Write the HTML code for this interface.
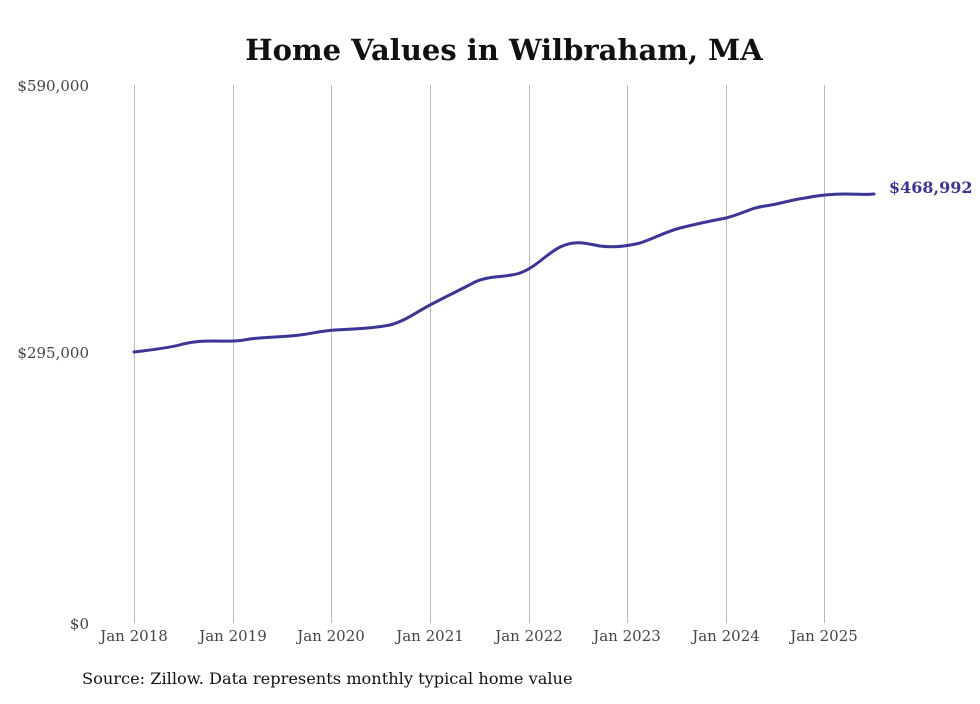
<!DOCTYPE html>
<html><head><meta charset="utf-8"><style>
body{margin:0;background:#fff;width:980px;height:699px;overflow:hidden}
</style></head><body>
<svg width="980" height="699" xmlns="http://www.w3.org/2000/svg" font-family="'DejaVu Serif','Liberation Serif',serif">
<text x="504" y="60" text-anchor="middle" font-size="29" font-weight="bold" fill="#111">Home Values in Wilbraham, MA</text>
<g stroke="#b8b8b8" stroke-width="1">
<line x1="134.5" y1="85" x2="134.5" y2="623"/>
<line x1="233.5" y1="85" x2="233.5" y2="623"/>
<line x1="331.5" y1="85" x2="331.5" y2="623"/>
<line x1="430.5" y1="85" x2="430.5" y2="623"/>
<line x1="529.5" y1="85" x2="529.5" y2="623"/>
<line x1="627.5" y1="85" x2="627.5" y2="623"/>
<line x1="726.5" y1="85" x2="726.5" y2="623"/>
<line x1="824.5" y1="85" x2="824.5" y2="623"/>
</g>
<g font-size="15" fill="#444" text-anchor="end">
<text x="89" y="91">$590,000</text>
<text x="89" y="358">$295,000</text>
<text x="89" y="629">$0</text>
</g>
<g font-size="15" fill="#444" text-anchor="middle">
<text x="134" y="641">Jan 2018</text>
<text x="233" y="641">Jan 2019</text>
<text x="331" y="641">Jan 2020</text>
<text x="430" y="641">Jan 2021</text>
<text x="529" y="641">Jan 2022</text>
<text x="627" y="641">Jan 2023</text>
<text x="726" y="641">Jan 2024</text>
<text x="824" y="641">Jan 2025</text>
</g>
<path fill="none" stroke="#3b3596" stroke-width="3" stroke-linejoin="round" stroke-linecap="round"
d="M134,352 C150,350 170,348 183,344 C195,341 205,341 215,341 C225,341 235,342 250,339 C265,337 285,337 300,335 C315,333 320,331 335,330 C355,329 375,328 390,325 C405,321 415,313 430,305 C445,297 460,290 475,282 C490,275 505,278 520,273 C535,268 545,255 560,247 C575,240 585,243 600,246 C615,248 628,246 640,243 C655,238 665,232 680,228 C700,223 710,221 726,218 C745,213 750,208 765,206 C780,204 790,200 805,198 C820,195 830,194 845,194 C860,194 865,195 874,194"/>
<text x="889" y="193" font-size="16" font-weight="bold" fill="#3b3596">$468,992</text>
<text x="82" y="684" font-size="16.2" fill="#111">Source: Zillow. Data represents monthly typical home value</text>
</svg>
</body></html>
